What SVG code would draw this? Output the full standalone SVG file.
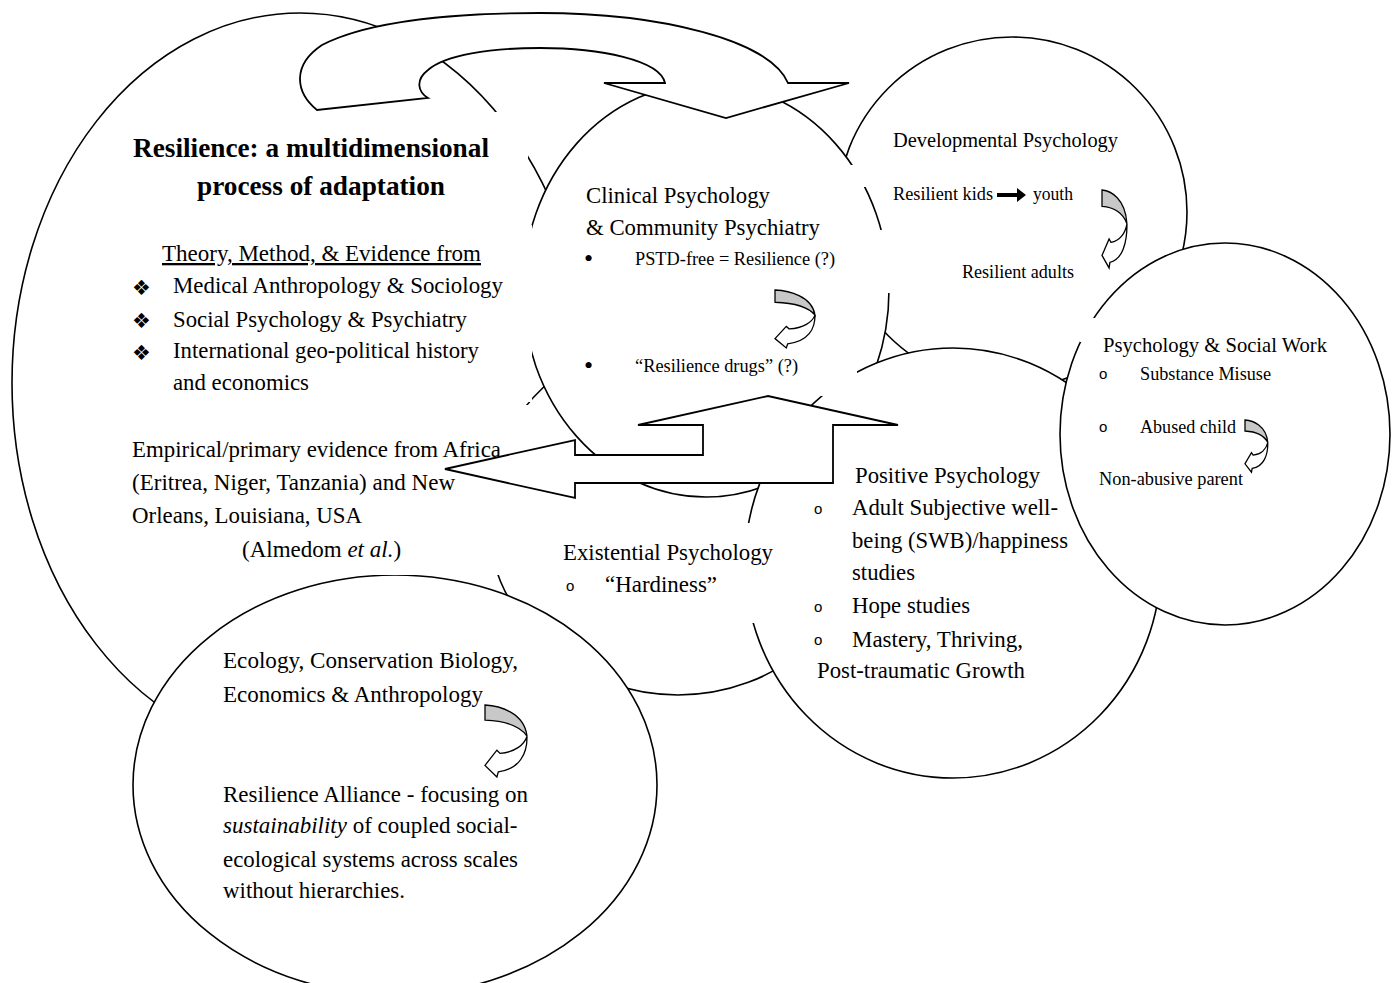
<svg xmlns="http://www.w3.org/2000/svg" xmlns:xlink="http://www.w3.org/1999/xlink" width="1395" height="983" viewBox="0 0 1395 983">
<style>
.ell{fill:#fff;stroke:#000;stroke-width:1.6}
.box{fill:#fff;stroke:none}
.arr{fill:#fff;stroke:#000;stroke-width:1.8;stroke-linejoin:miter}
.curlg{fill:#c8c8c8;stroke:#000;stroke-width:1.3}
.curlw{fill:#fff;stroke:#000;stroke-width:1.3}
text{font-family:"Liberation Serif","Times New Roman",serif;fill:#000}
.b{font-weight:bold;font-size:27px}
.m{font-size:23px}
.s{font-size:18px}
.h{font-size:21px}
.o{font-family:"Liberation Sans",Arial,sans-serif;font-size:15px}
.d{font-family:"DejaVu Sans",sans-serif;font-size:21px}
.dot{font-size:26px}
</style>
<defs>
<g id="curl">
<path class="curlg" vector-effect="non-scaling-stroke" d="M0,0 C40,2 112,18 120,78 C100,52 55,40 0,38 Z"/>
<path class="curlw" vector-effect="non-scaling-stroke" d="M120,78 C121,120 100,160 38,167 L34,180 L0,151 L34,113 L43,121 C85,118 112,100 120,78 Z"/>
</g>
</defs>

<g id="node-resilience"><ellipse class="ell" cx="300" cy="383" rx="288" ry="370"/></g>
<g id="node-existential"><ellipse class="ell" cx="678" cy="515" rx="191" ry="180"/></g>
<g id="node-developmental"><ellipse class="ell" cx="1012" cy="212" rx="175" ry="175"/></g>
<g id="node-clinical"><ellipse class="ell" cx="706" cy="290" rx="183" ry="207"/></g>
<g id="node-positive"><ellipse class="ell" cx="953" cy="563" rx="208" ry="215"/></g>
<g id="node-socialwork"><ellipse class="ell" cx="1225" cy="434" rx="165" ry="191"/></g>
<g id="node-ecology"><ellipse class="ell" cx="395" cy="785" rx="262" ry="210"/></g>

<g id="textboxes">
<rect class="box" x="125" y="112" width="403" height="100"/>
<rect class="box" x="125" y="225" width="407" height="177"/>
<rect class="box" x="125" y="405" width="405" height="170"/>
<rect class="box" x="585" y="345" width="272" height="51"/>
<rect class="box" x="846" y="165" width="24" height="22"/>
<rect class="box" x="868" y="230" width="27" height="63"/>
<rect class="box" x="1080" y="318" width="20" height="24"/>
<rect class="box" x="735" y="523" width="45" height="100"/>
</g>

<g id="connectors">
<path class="arr" d="M317,110 C295,92 292,65 322,45 C370,20 460,13 540,13 C660,13 770,40 788,83 L849,83 L726,118 L604,83 L665,83 C660,60 600,48 540,48 C490,48 445,55 428,70 C415,80 418,92 428,98 Z"/>
<path class="arr" d="M445,469 L575,440 L575,455 L703,455 L703,425 L638,425 L768,396 L898,425 L833,425 L833,483 L575,483 L575,498 Z"/>
<use xlink:href="#curl" transform="translate(775,290) scale(0.333,0.322)"/>
<use xlink:href="#curl" transform="translate(1102,190) scale(0.208,0.433)"/>
<use xlink:href="#curl" transform="translate(1245,420) scale(0.19,0.29)"/>
<use xlink:href="#curl" transform="translate(485,705) scale(0.35,0.4)"/>
<path d="M997,193 L1017,193 L1017,188 L1026,195 L1017,202 L1017,197 L997,197 Z" fill="#000"/>
</g>

<g id="label-resilience">
<text class="b" x="133" y="157" textLength="356" lengthAdjust="spacingAndGlyphs">Resilience: a multidimensional</text>
<text class="b" x="197" y="195" textLength="248" lengthAdjust="spacingAndGlyphs">process of adaptation</text>
<text class="m" x="162" y="261" textLength="319" lengthAdjust="spacingAndGlyphs" text-decoration="underline">Theory, Method, &amp; Evidence from</text>
<text class="d" x="132" y="295">❖</text>
<text class="d" x="132" y="328">❖</text>
<text class="d" x="132" y="360">❖</text>
<text class="m" x="173" y="293" textLength="330" lengthAdjust="spacingAndGlyphs">Medical Anthropology &amp; Sociology</text>
<text class="m" x="173" y="327" textLength="294" lengthAdjust="spacingAndGlyphs">Social Psychology &amp; Psychiatry</text>
<text class="m" x="173" y="358" textLength="306" lengthAdjust="spacingAndGlyphs">International geo-political history</text>
<text class="m" x="173" y="390" textLength="136" lengthAdjust="spacingAndGlyphs">and economics</text>
<text class="m" x="132" y="457" textLength="369" lengthAdjust="spacingAndGlyphs">Empirical/primary evidence from Africa</text>
<text class="m" x="132" y="490" textLength="323" lengthAdjust="spacingAndGlyphs">(Eritrea, Niger, Tanzania) and New</text>
<text class="m" x="132" y="523" textLength="230" lengthAdjust="spacingAndGlyphs">Orleans, Louisiana, USA</text>
<text class="m" x="242" y="557">(Almedom <tspan font-style="italic">et al.</tspan>)</text>
</g>

<g id="label-clinical">
<text class="m" x="586" y="203" textLength="184" lengthAdjust="spacingAndGlyphs">Clinical Psychology</text>
<text class="m" x="586" y="235" textLength="234" lengthAdjust="spacingAndGlyphs">&amp; Community Psychiatry</text>
<text class="dot" x="584" y="267">•</text>
<text class="s" x="635" y="265" textLength="200" lengthAdjust="spacingAndGlyphs">PSTD-free = Resilience (?)</text>
<text class="dot" x="584" y="374">•</text>
<text class="s" x="635" y="372" textLength="163" lengthAdjust="spacingAndGlyphs">“Resilience drugs” (?)</text>
</g>

<g id="label-developmental">
<text class="h" x="893" y="147" textLength="225" lengthAdjust="spacingAndGlyphs">Developmental Psychology</text>
<text class="s" x="893" y="200" textLength="100" lengthAdjust="spacingAndGlyphs">Resilient kids</text>
<text class="s" x="1033" y="200" textLength="40" lengthAdjust="spacingAndGlyphs">youth</text>
<text class="s" x="962" y="278" textLength="112" lengthAdjust="spacingAndGlyphs">Resilient adults</text>
</g>

<g id="label-socialwork">
<text class="h" x="1103" y="352" textLength="224" lengthAdjust="spacingAndGlyphs">Psychology &amp; Social Work</text>
<text class="o" x="1099" y="379">o</text>
<text class="s" x="1140" y="380" textLength="131" lengthAdjust="spacingAndGlyphs">Substance Misuse</text>
<text class="o" x="1099" y="432">o</text>
<text class="s" x="1140" y="433" textLength="96" lengthAdjust="spacingAndGlyphs">Abused child</text>
<text class="s" x="1099" y="485" textLength="144" lengthAdjust="spacingAndGlyphs">Non-abusive parent</text>
</g>

<g id="label-positive">
<text class="m" x="855" y="483" textLength="185" lengthAdjust="spacingAndGlyphs">Positive Psychology</text>
<text class="o" x="814" y="514">o</text>
<text class="m" x="852" y="515" textLength="206" lengthAdjust="spacingAndGlyphs">Adult Subjective well-</text>
<text class="m" x="852" y="548" textLength="216" lengthAdjust="spacingAndGlyphs">being (SWB)/happiness</text>
<text class="m" x="852" y="580" textLength="63" lengthAdjust="spacingAndGlyphs">studies</text>
<text class="o" x="814" y="612">o</text>
<text class="m" x="852" y="613" textLength="118" lengthAdjust="spacingAndGlyphs">Hope studies</text>
<text class="o" x="814" y="645">o</text>
<text class="m" x="852" y="647" textLength="171" lengthAdjust="spacingAndGlyphs">Mastery, Thriving,</text>
<text class="m" x="817" y="678" textLength="208" lengthAdjust="spacingAndGlyphs">Post-traumatic Growth</text>
</g>

<g id="label-existential">
<text class="m" x="563" y="560" textLength="210" lengthAdjust="spacingAndGlyphs">Existential Psychology</text>
<text class="o" x="566" y="591">o</text>
<text class="m" x="605" y="592" textLength="112" lengthAdjust="spacingAndGlyphs">“Hardiness”</text>
</g>

<g id="label-ecology">
<text class="m" x="223" y="668" textLength="295" lengthAdjust="spacingAndGlyphs">Ecology, Conservation Biology,</text>
<text class="m" x="223" y="702" textLength="260" lengthAdjust="spacingAndGlyphs">Economics &amp; Anthropology</text>
<text class="m" x="223" y="802" textLength="305" lengthAdjust="spacingAndGlyphs">Resilience Alliance - focusing on</text>
<text class="m" x="223" y="833"><tspan font-style="italic">sustainability</tspan> of coupled social-</text>
<text class="m" x="223" y="867" textLength="295" lengthAdjust="spacingAndGlyphs">ecological systems across scales</text>
<text class="m" x="223" y="898" textLength="182" lengthAdjust="spacingAndGlyphs">without hierarchies.</text>
</g>
</svg>
